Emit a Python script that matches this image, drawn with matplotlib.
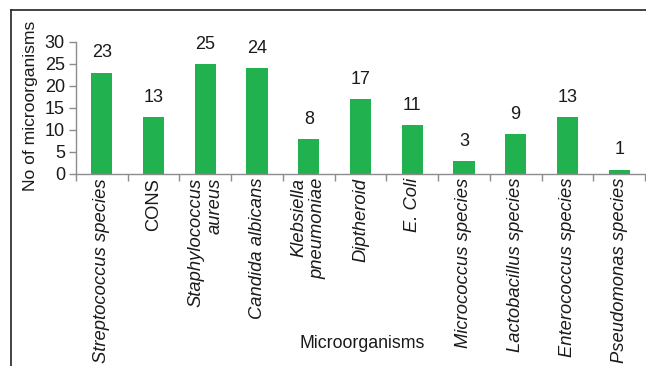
import matplotlib
matplotlib.use("Agg")
import matplotlib.pyplot as plt
from matplotlib.lines import Line2D

categories = ["Streptococcus species", "CONS", "Staphylococcus\naureus",
              "Candida albicans", "Klebsiella\npneumoniae", "Diptheroid",
              "E. Coli", "Micrococcus species", "Lactobacillus species",
              "Enterococcus species", "Pseudomonas species"]
italic = [True, False, True, True, True, True, True, True, True, True, True]
counts = [23, 13, 25, 24, 8, 17, 11, 3, 9, 13, 1]
yticks = [0, 5, 10, 15, 20, 25, 30]

plt.rcParams['font.family'] = ['Liberation Sans', 'DejaVu Sans']
W, H = 646, 366
fig = plt.figure(figsize=(W / 100, H / 100), dpi=100)

ax_l, ax_r, ax_b, ax_t = 76, 645, 174, 41.7
ax = fig.add_axes([ax_l / W, 1 - ax_b / H, (ax_r - ax_l) / W, (ax_b - ax_t) / H])

green = "#21b24f"
text_c = "#1a1a1a"
axis_c = "#8c8c8c"
fs = 13

x = list(range(len(categories)))
ax.bar(x, counts, width=0.41, color=green, zorder=2)
for xi, v in zip(x, counts):
    ax.annotate(str(v), (xi, v), xytext=(0, 8), textcoords="offset points",
                ha="center", va="bottom", fontsize=fs, color=text_c,
                annotation_clip=False)

ax.set_xlim(-0.5, len(categories) - 0.5)
ax.set_ylim(0, 30)
ax.set_yticks(yticks)
ax.set_yticklabels([str(t) for t in yticks], fontsize=fs, color=text_c)

ax.set_xticks([i - 0.5 for i in range(len(categories) + 1)])
ax.set_xticklabels([])
ax.tick_params(axis="x", length=5, width=1, color=axis_c, direction="out")
ax.tick_params(axis="y", length=5, width=1, color=axis_c, direction="out", pad=3)

for xi, lab, it in zip(x, categories, italic):
    ax.text(xi, -0.03, lab, transform=ax.get_xaxis_transform(),
            rotation=90, ha="center", va="top", multialignment="right",
            fontsize=13.2, color=text_c, style="italic" if it else "normal",
            linespacing=1.15)

for s in ["top", "right"]:
    ax.spines[s].set_visible(False)
for s in ["left", "bottom"]:
    ax.spines[s].set_color(axis_c)
    ax.spines[s].set_linewidth(1)

fig.text(31 / W, 1 - 106 / H, "No of microorganisms", rotation=90,
         ha="center", va="center", fontsize=12.6, color=text_c)
fig.text(362 / W, 1 - 343 / H, "Microorganisms", ha="center", va="center",
         fontsize=12.8, color=text_c)

# outer frame lines
fig.add_artist(Line2D([11 / W, 1.0], [1 - 10 / H, 1 - 10 / H],
                      transform=fig.transFigure, color="#222222", lw=1.2))
fig.add_artist(Line2D([11 / W, 11 / W], [1 - 10 / H, 0],
                      transform=fig.transFigure, color="#222222", lw=1.2))

fig.savefig("out.png", dpi=100, facecolor="white")
